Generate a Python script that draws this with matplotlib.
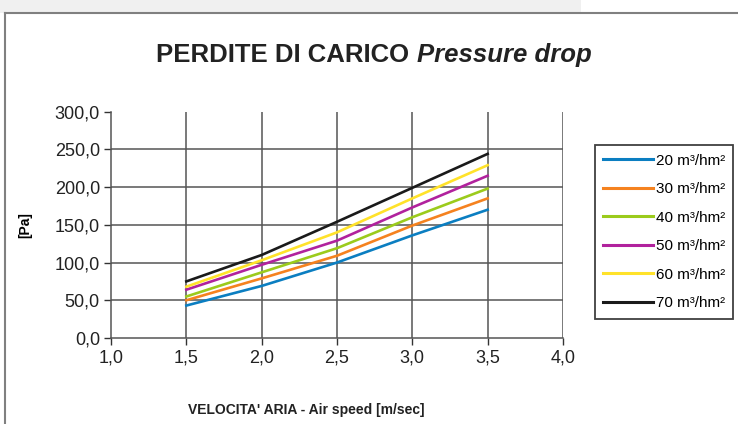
import matplotlib.pyplot as plt
from matplotlib.patches import Rectangle
from matplotlib.lines import Line2D

plt.rcParams['font.family'] = ['Liberation Sans', 'DejaVu Sans']

speed = [1.5, 2.0, 2.5, 3.0, 3.5]
labels = ["20 m³/hm²", "30 m³/hm²", "40 m³/hm²", "50 m³/hm²", "60 m³/hm²", "70 m³/hm²"]
p20 = [43, 69, 100, 136, 170]
p30 = [50, 79, 109, 149, 185]
p40 = [55, 87, 119, 160, 198]
p50 = [64, 97, 129, 173, 215]
p60 = [68, 103, 140, 185, 229]
p70 = [75, 110, 154, 199, 244]
series = [p20, p30, p40, p50, p60, p70]
colors = ["#0b7ec1", "#f5821f", "#9bcb1c", "#b1229d", "#ffe22a", "#1a1a1a"]

fig = plt.figure(figsize=(7.38, 4.24), dpi=100)

# frame of the page around the chart
fig.patches.append(Rectangle((0, 1 - 13/424), 581/738, 13/424, transform=fig.transFigure,
                             facecolor="#f0f0f0", edgecolor="none", zorder=0))
fig.add_artist(Line2D([5/738, 5/738], [0, 1 - 13/424], transform=fig.transFigure,
                      color="#808080", lw=1.5))
fig.add_artist(Line2D([5/738, 1], [1 - 13/424, 1 - 13/424], transform=fig.transFigure,
                      color="#808080", lw=1.5))

ax = fig.add_axes([111/738, 0.2028, (563 - 111)/738, 0.534])

for vals, lab, c in zip(series, labels, colors):
    ax.plot(speed, vals, color=c, lw=1.9, label=lab, zorder=3)

ax.set_xlim(1.0, 4.0)
ax.set_ylim(0, 300)
ax.set_xticks([1.0, 1.5, 2.0, 2.5, 3.0, 3.5, 4.0])
ax.set_yticks([0, 50, 100, 150, 200, 250, 300])
ax.set_xticklabels(["1,0", "1,5", "2,0", "2,5", "3,0", "3,5", "4,0"])
ax.set_yticklabels(["0,0", "50,0", "100,0", "150,0", "200,0", "250,0", "300,0"])
ax.tick_params(labelsize=13, colors="#333333", length=5, width=1, direction="out", pad=3)
ax.tick_params(labelcolor="#222222")

for x in [1.5, 2.0, 2.5, 3.0, 3.5, 4.0]:
    ax.axvline(x, color="#555555", lw=1.1, zorder=1)
for y in [50, 100, 150, 200, 250]:
    ax.axhline(y, color="#555555", lw=1.1, zorder=1)

ax.spines["top"].set_visible(False)
ax.spines["right"].set_visible(False)
ax.spines["left"].set_color("#555555")
ax.spines["bottom"].set_color("#555555")
ax.spines["left"].set_linewidth(1.1)
ax.spines["bottom"].set_linewidth(1.1)

ax.set_ylabel("[Pa]", fontsize=10, fontweight="bold", labelpad=16)
fig.text(306/738, 1 - 410/424, "VELOCITA' ARIA - Air speed [m/sec]", fontsize=10,
         fontweight="bold", ha="center", va="center", color="#222222")

# title: bold upright part + bold italic part
t1 = fig.text(0, 1 - 55/424, "PERDITE DI CARICO ", fontsize=18.5, fontweight="bold",
              ha="left", va="center", color="#222222")
t2 = fig.text(0, 1 - 55/424, "Pressure drop", fontsize=18.5, fontweight="bold",
              style="italic", ha="left", va="center", color="#222222")
fig.canvas.draw()
r = fig.canvas.get_renderer()
w1 = t1.get_window_extent(r).width
w2 = t2.get_window_extent(r).width
x0 = 374 - (w1 + w2) / 2
t1.set_x(x0 / 738)
t2.set_x((x0 + w1) / 738)

leg = fig.legend(loc="center", bbox_to_anchor=(664/738, 1 - 232/424), fontsize=11,
                 frameon=True, fancybox=False, handlelength=3.3, handletextpad=0.15,
                 labelspacing=0.95, borderpad=0.55)
leg.get_frame().set_edgecolor("#111111")
leg.get_frame().set_linewidth(1.3)
for line in leg.get_lines():
    line.set_linewidth(2.2)

fig.savefig("out.png", dpi=100)
